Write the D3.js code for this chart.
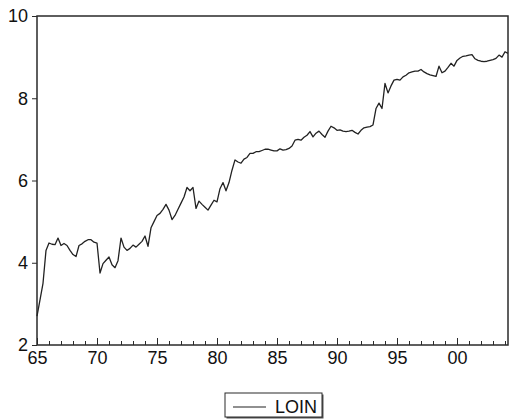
<!DOCTYPE html>
<html>
<head>
<meta charset="utf-8">
<script src="https://cdn.jsdelivr.net/npm/d3@7"></script>
<style>
  html, body { margin: 0; padding: 0; background: #fff; }
  svg { display: block; font-family: "Liberation Sans", Arial, sans-serif; }
</style>
</head>
<body>
<div id="chart"></div>
<script>
// quarterly series LOIN, 1965Q1 .. 2004Q2
const startYear = 1965;
const loin1960s = [2.7, 3.1, 3.5, 4.3, 4.48, 4.45, 4.44, 4.6, 4.42, 4.47, 4.42, 4.3, 4.2, 4.15, 4.42, 4.46, 4.52, 4.56, 4.56, 4.5];
const loin1970s = [4.48, 3.75, 3.98, 4.06, 4.14, 3.95, 3.88, 4.05, 4.6, 4.38, 4.3, 4.35, 4.43, 4.38, 4.45, 4.52, 4.65, 4.4, 4.85, 5.0,
                   5.15, 5.2, 5.3, 5.42, 5.28, 5.05, 5.15, 5.3, 5.45, 5.6, 5.83, 5.75, 5.83, 5.32, 5.5, 5.42, 5.35, 5.28, 5.4, 5.52];
const loin1980s = [5.48, 5.8, 5.95, 5.75, 5.95, 6.25, 6.5, 6.45, 6.42, 6.52, 6.56, 6.66, 6.66, 6.7, 6.7, 6.73, 6.76, 6.76, 6.74, 6.72,
                   6.72, 6.77, 6.74, 6.75, 6.78, 6.84, 6.98, 7.0, 6.98, 7.05, 7.1, 7.19, 7.06, 7.15, 7.2, 7.12, 7.05, 7.2, 7.32, 7.28];
const loin1990s = [7.22, 7.23, 7.2, 7.19, 7.2, 7.22, 7.17, 7.13, 7.22, 7.28, 7.3, 7.31, 7.35, 7.75, 7.88, 7.75, 8.36, 8.13, 8.3, 8.44,
                   8.46, 8.44, 8.52, 8.56, 8.62, 8.64, 8.66, 8.66, 8.7, 8.64, 8.6, 8.57, 8.55, 8.53, 8.78, 8.62, 8.66, 8.75, 8.85, 8.78];
const loin2000s = [8.92, 8.98, 9.02, 9.03, 9.05, 9.06, 8.96, 8.92, 8.9, 8.89, 8.9, 8.92, 8.94, 8.97, 9.05, 9.0, 9.13, 9.09];

const xMajorTicks = [1965, 1970, 1975, 1980, 1985, 1990, 1995, 2000];
const xTickLabels = ["65", "70", "75", "80", "85", "90", "95", "00"];
const yTicks = [2, 4, 6, 8, 10];
const seriesName = "LOIN";

const loin = [...loin1960s, ...loin1970s, ...loin1980s, ...loin1990s, ...loin2000s];
const data = loin.map((v, i) => ({ t: startYear + i / 4, v: v }));

const W = 511, H = 420;
const margin = { top: 16, right: 3, bottom: 75, left: 37 };

const svg = d3.select("#chart").append("svg")
    .attr("width", W)
    .attr("height", H);

const x = d3.scaleLinear()
    .domain([startYear, data[data.length - 1].t])
    .range([margin.left, W - margin.right]);

const y = d3.scaleLinear()
    .domain([2, 10])
    .range([H - margin.bottom, margin.top]);

const ink = "#2a2a2a";

// minor x ticks (every year, inward)
svg.append("g")
    .attr("transform", `translate(0,${y(2)})`)
    .call(d3.axisBottom(x).tickValues(d3.range(1965, 2005)).tickSize(-4).tickFormat(""))
    .call(g => g.select(".domain").remove())
    .call(g => g.selectAll("line").attr("stroke", ink));

// major x ticks with labels
svg.append("g")
    .attr("transform", `translate(0,${y(2)})`)
    .call(d3.axisBottom(x).tickValues(xMajorTicks).tickSize(-7).tickPadding(6)
        .tickFormat((d, i) => xTickLabels[i]))
    .call(g => g.select(".domain").remove())
    .call(g => g.selectAll("line").attr("stroke", ink))
    .call(g => g.selectAll("text").attr("fill", "#111").style("font-size", "18px"));

// y axis
svg.append("g")
    .attr("transform", `translate(${margin.left},0)`)
    .call(d3.axisLeft(y).tickValues(yTicks).tickSize(5).tickPadding(4))
    .call(g => g.select(".domain").remove())
    .call(g => g.selectAll("line").attr("stroke", ink))
    .call(g => g.selectAll("text").attr("fill", "#111").style("font-size", "18px"));

// frame
svg.append("rect")
    .attr("x", x.range()[0])
    .attr("y", y(10))
    .attr("width", x.range()[1] - x.range()[0])
    .attr("height", y(2) - y(10))
    .attr("fill", "none")
    .attr("stroke", ink)
    .attr("stroke-width", 1.5);

// series line
const line = d3.line()
    .x(d => x(d.t))
    .y(d => y(d.v));

svg.append("path")
    .datum(data)
    .attr("fill", "none")
    .attr("stroke", "#222")
    .attr("stroke-width", 1.3)
    .attr("stroke-linejoin", "round")
    .attr("d", line);

// legend
const legend = svg.append("g").attr("transform", "translate(225,393)");
legend.append("rect")
    .attr("x", 1.5).attr("y", 1.5)
    .attr("width", 97).attr("height", 24)
    .attr("fill", "#555");
legend.append("rect")
    .attr("width", 97).attr("height", 24)
    .attr("fill", "#fff")
    .attr("stroke", ink)
    .attr("stroke-width", 1);
legend.append("line")
    .attr("x1", 8).attr("x2", 41)
    .attr("y1", 14).attr("y2", 14)
    .attr("stroke", "#222")
    .attr("stroke-width", 1.2);
legend.append("text")
    .attr("x", 50).attr("y", 20)
    .attr("fill", "#111")
    .style("font-size", "18px")
    .text(seriesName);
</script>
</body>
</html>
